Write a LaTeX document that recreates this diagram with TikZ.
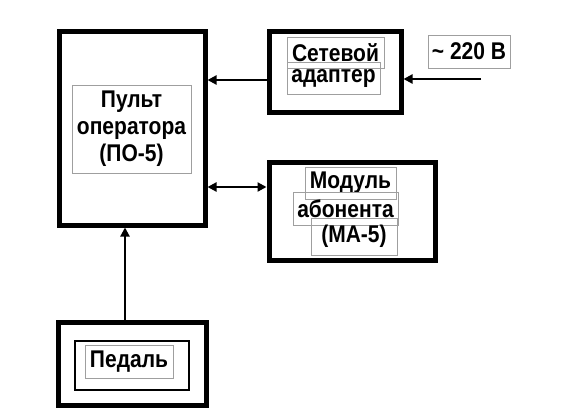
\documentclass[tikz,border=0pt]{standalone}
\usepackage{fontspec}
\setmainfont{Liberation Sans}
\usetikzlibrary{arrows.meta}
\newcommand\tall[1]{\scalebox{1}[1.15]{#1}}
\begin{document}
\begin{tikzpicture}[x=1pt,y=-1pt,
  blk/.style={draw=black,line width=5pt,minimum width=#1,inner sep=0pt},
  lbl/.style={draw=gray!75,line width=0.8pt,inner sep=0pt,font=\fontsize{21}{27}\selectfont\bfseries,align=center},
  arr/.style={line width=2.2pt,-{Triangle[length=9pt,width=9pt]}},
  darr/.style={line width=2.2pt,{Triangle[length=9pt,width=9pt]}-{Triangle[length=9pt,width=9pt]}}]
\useasboundingbox[fill=white] (0,0) rectangle (566,418);
% main blocks
\node[blk=146pt,minimum height=194pt] (po) at (132,128) {};
\node[blk=132pt,minimum height=81pt] (adapter) at (335,71.5) {};
\node[blk=166pt,minimum height=98pt] (module) at (352,211) {};
\node[blk=148pt,minimum height=83pt] (pedal) at (132,363.5) {};
\node[draw=black,line width=1.3pt,minimum width=114pt,minimum height=49pt,inner sep=0pt] (pedalin) at (132,365.5) {};
% labels
\node[lbl,minimum width=119pt,minimum height=88pt] (potext) at (131.5,129) {\tall{Пульт}\\\tall{оператора}\\\tall{(ПО-5)}};
\node[lbl,minimum width=97pt,minimum height=31pt] (ad1) at (335.5,52.5) {\tall{Сетевой}};
\node[lbl,minimum width=93pt,minimum height=32pt] (ad2) at (333.5,78) {\tall{адаптер}};
\node[lbl,minimum width=82pt,minimum height=33pt] (volt) at (469,51.5) {\tall{\textasciitilde{} 220 В}};
\node[lbl,minimum width=91pt,minimum height=32pt] (m1) at (350.5,183) {\tall{Модуль}};
\node[lbl,minimum width=105pt,minimum height=33pt] (m2) at (345.5,208.5) {\tall{абонента}};
\node[lbl,minimum width=86pt,minimum height=37pt] (m3) at (354,236.5) {\tall{(МА-5)}};
\node[lbl,minimum width=88pt,minimum height=33pt] (ped) at (129,361.5) {\tall{Педаль}};
% connectors
\draw[arr] ([yshift=-8.5pt]adapter.west) coordinate (s1) -- (s1 -| po.east);
\draw[darr] ([yshift=24pt]module.west) coordinate (s2) -- (s2 -| po.east);
\draw[arr] ([xshift=-7pt]pedal.north) coordinate (s3) -- (s3 |- po.south);
\coordinate (mains) at (481,79);
\draw[arr] (mains) -- (mains -| adapter.east);
\end{tikzpicture}
\end{document}
